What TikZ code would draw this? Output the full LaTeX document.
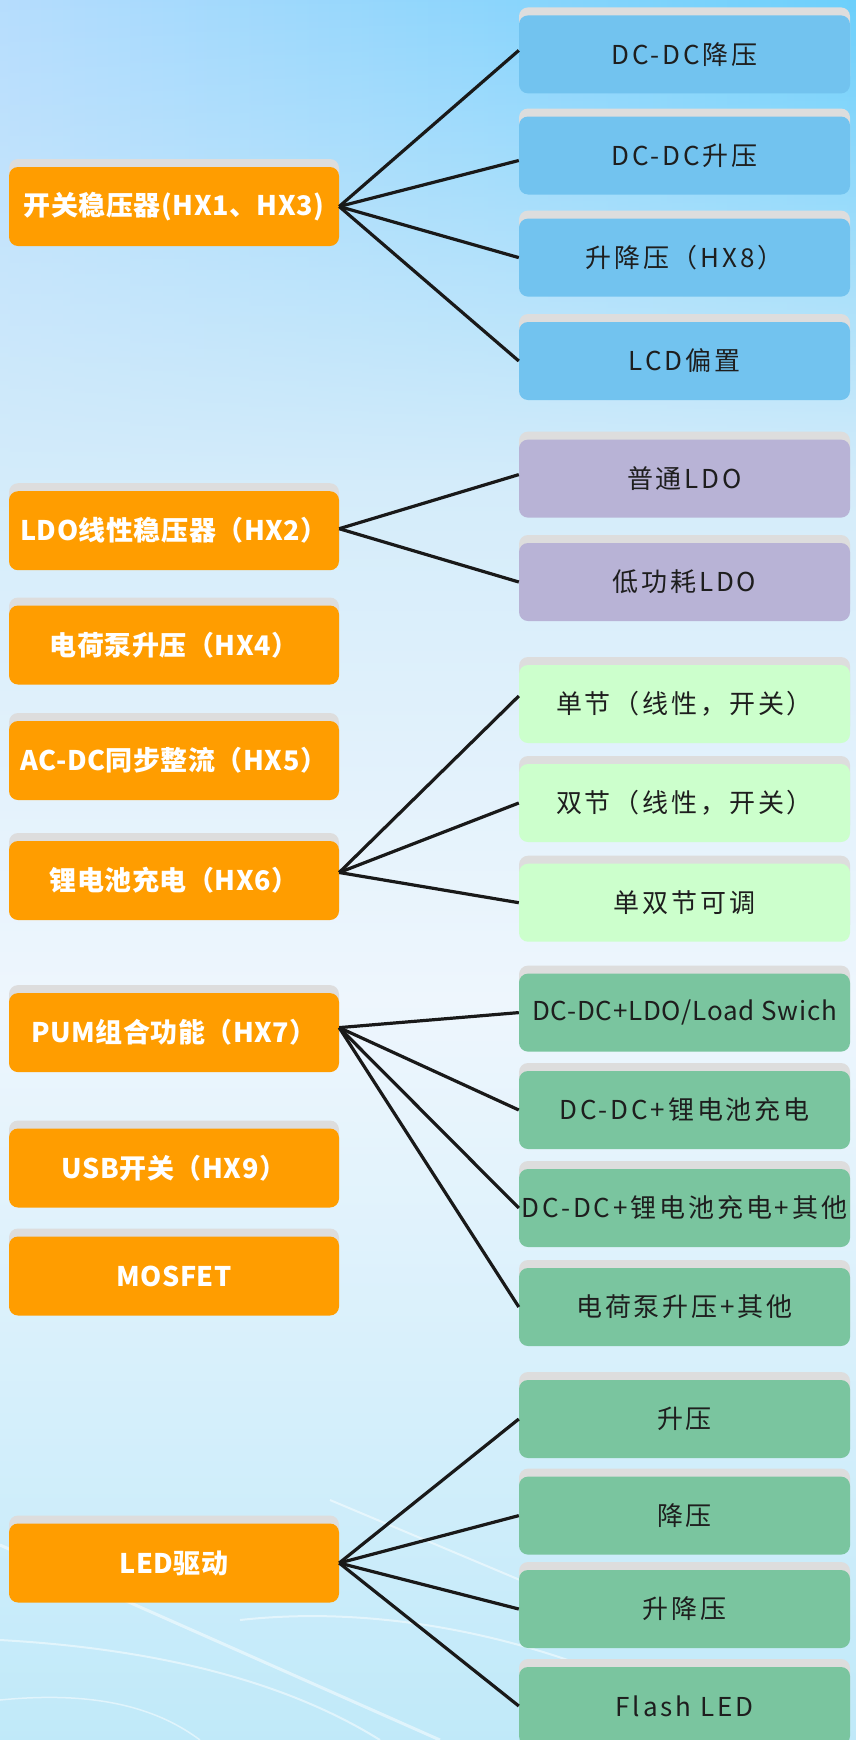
\documentclass[tikz,border=0pt]{standalone}
\usepackage{fontspec}
\setmainfont{Noto Sans CJK SC}
\usetikzlibrary{shadows,fadings}
\definecolor{orgc}{HTML}{FF9D00}
\definecolor{bluec}{HTML}{72C3EF}
\definecolor{purc}{HTML}{B8B3D6}
\definecolor{lgrc}{HTML}{CCFFCC}
\definecolor{grc}{HTML}{7AC59F}
\definecolor{shadc}{HTML}{DDDDDD}
\definecolor{txtc}{HTML}{1E1E1E}
\definecolor{bgA}{HTML}{B7DDFE}
\definecolor{bgB}{HTML}{66CEFC}
\definecolor{bgC}{HTML}{D4ECFA}
\definecolor{bgD}{HTML}{EEF6FD}
\definecolor{bgE}{HTML}{BFE9F9}
\tikzfading[name=fadetop, top color=transparent!100, bottom color=transparent!0]
\tikzset{
  boxbase/.style={rounded corners=9pt, inner sep=0pt,
    general shadow={fill=shadc, shadow yshift=8pt, shadow xshift=0pt}},
  lbox/.style={boxbase, fill=orgc, minimum width=330pt, minimum height=79pt,
    text=white, font=\fontsize{27}{30}\selectfont\bfseries\addfontfeature{LetterSpace=2}},
  rbox/.style={boxbase, minimum width=331pt, minimum height=78pt,
    text=txtc, font=\fontsize{26}{29}\selectfont\addfontfeature{LetterSpace=11}},
  tightbox/.style={font=\fontsize{26}{29}\selectfont\addfontfeature{LetterSpace=3}},
  bluebox/.style={rbox, fill=bluec},
  purbox/.style={rbox, fill=purc},
  lgrbox/.style={rbox, fill=lgrc},
  grbox/.style={rbox, fill=grc},
  conn/.style={draw=black!90, line width=3.2pt},
  streak/.style={draw=white, opacity=.5}
}
\begin{document}
\begin{tikzpicture}[x=1pt, y=-1pt]
\useasboundingbox (0,0) rectangle (856,1740);
% background
\begin{scope}
\clip (0,0) rectangle (856,1740);
\fill[left color=bgA, right color=bgB] (-20,-20) rectangle (876,481);
\fill[bgC, path fading=fadetop] (-20,-20) rectangle (876,481);
\fill[top color=bgC, bottom color=bgD] (-20,480) rectangle (876,1001);
\fill[top color=bgD, bottom color=bgE] (-20,1000) rectangle (876,1760);
\draw[streak, line width=3pt] (0,1545) -- (440,1740);
\draw[streak, line width=2pt] (0,1640) .. controls (180,1650) and (300,1690) .. (380,1740);
\draw[streak, line width=2pt] (240,1620) .. controls (420,1600) and (600,1660) .. (700,1720);
\draw[streak, line width=1.5pt] (0,1700) .. controls (100,1690) and (160,1710) .. (200,1740);
\draw[streak, line width=2pt] (330,1500) -- (520,1580);
\end{scope}
% left column
\node[lbox] (A) at (174,206.5) {开关稳压器(HX1、HX3)};
\node[lbox] (B) at (174,530.7) {LDO线性稳压器（HX2）};
\node[lbox] (C) at (174,645) {电荷泵升压（HX4）};
\node[lbox] (D) at (174,760.5) {AC-DC同步整流（HX5）};
\node[lbox] (E) at (174,880.5) {锂电池充电（HX6）};
\node[lbox] (F) at (174,1032.6) {PUM组合功能（HX7）};
\node[lbox] (G) at (174,1168) {USB开关（HX9）};
\node[lbox] (H) at (174,1276) {MOSFET};
\node[lbox] (I) at (174,1563) {LED驱动};
% right column
\node[bluebox] (r1) at (684.5,54.4) {DC-DC降压};
\node[bluebox] (r2) at (684.5,155.5) {DC-DC升压};
\node[bluebox] (r3) at (684.5,257.6) {升降压（HX8）};
\node[bluebox] (r4) at (684.5,361) {LCD偏置};
\node[purbox] (r5) at (684.5,478.6) {普通LDO};
\node[purbox] (r6) at (684.5,582) {低功耗LDO};
\node[lgrbox] (r7) at (684.5,704) {单节（线性，开关）};
\node[lgrbox] (r8) at (684.5,803) {双节（线性，开关）};
\node[lgrbox] (r9) at (684.5,902.7) {单双节可调};
\node[grbox, tightbox] (r10) at (684.5,1012.6) {DC-DC+LDO/Load Swich};
\node[grbox] (r11) at (684.5,1110) {DC-DC+锂电池充电};
\node[grbox] (r12) at (684.5,1208) {DC-DC+锂电池充电+其他};
\node[grbox] (r13) at (684.5,1307) {电荷泵升压+其他};
\node[grbox] (r14) at (684.5,1419) {升压};
\node[grbox] (r15) at (684.5,1515.6) {降压};
\node[grbox] (r16) at (684.5,1609) {升降压};
\node[grbox] (r17) at (684.5,1706) {Flash LED};
% connectors
\draw[conn] (A.east) -- ([yshift=4pt]r1.west);
\draw[conn] (A.east) -- ([yshift=-5pt]r2.west);
\draw[conn] (A.east) -- (r3.west);
\draw[conn] (A.east) -- (r4.west);
\draw[conn] ([yshift=2pt]B.east) -- ([yshift=4pt]r5.west);
\draw[conn] ([yshift=2pt]B.east) -- (r6.west);
\draw[conn] ([yshift=8pt]E.east) -- ([yshift=8pt]r7.west);
\draw[conn] ([yshift=8pt]E.east) -- (r8.west);
\draw[conn] ([yshift=8pt]E.east) -- (r9.west);
\draw[conn] ([yshift=5pt]F.east) -- (r10.west);
\draw[conn] ([yshift=5pt]F.east) -- (r11.west);
\draw[conn] ([yshift=5pt]F.east) -- (r12.west);
\draw[conn] ([yshift=5pt]F.east) -- (r13.west);
\draw[conn] (I.east) -- (r14.west);
\draw[conn] (I.east) -- (r15.west);
\draw[conn] (I.east) -- (r16.west);
\draw[conn] (I.east) -- (r17.west);
\end{tikzpicture}
\end{document}
